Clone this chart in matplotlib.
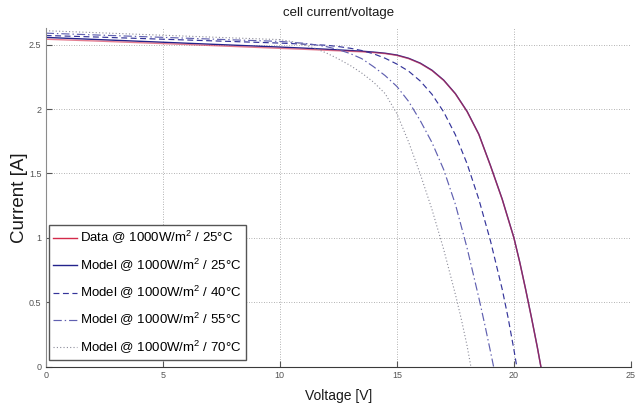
import matplotlib
matplotlib.use("Agg")
import matplotlib.pyplot as plt

plt.rcParams['font.family'] = ['Liberation Sans', 'DejaVu Sans']
plt.rcParams['mathtext.fontset'] = 'custom'
plt.rcParams['mathtext.rm'] = 'Liberation Sans'
plt.rcParams['mathtext.it'] = 'Liberation Sans'

# measured I-V curve at 1000 W/m2, 25 C
v_data = [0, 2, 4, 6, 8, 10, 11, 12, 13, 13.5, 14, 14.5, 15, 15.5, 16, 16.5, 17, 17.5,
          18, 18.5, 19, 19.5, 20, 20.25, 20.5, 20.75, 21, 21.15]
i_data = [2.543, 2.530, 2.516, 2.502, 2.487, 2.472, 2.465, 2.457, 2.449, 2.445, 2.439, 2.431,
          2.417, 2.392, 2.354, 2.299, 2.223, 2.118, 1.980, 1.803, 1.558, 1.298, 0.998, 0.808,
          0.598, 0.378, 0.148, 0.0]

# model curves, one per cell temperature
v_m25 = [0, 2, 4, 6, 8, 10, 11, 12, 13, 13.5, 14, 14.5, 15, 15.5, 16, 16.5, 17, 17.5,
         18, 18.5, 19, 19.5, 20, 20.25, 20.5, 20.75, 21, 21.15]
i_m25 = [2.557, 2.542, 2.527, 2.512, 2.497, 2.482, 2.474, 2.465, 2.455, 2.450, 2.443, 2.434,
         2.420, 2.395, 2.357, 2.302, 2.225, 2.120, 1.982, 1.805, 1.560, 1.300, 1.000, 0.810,
         0.600, 0.380, 0.150, 0.0]

v_m40 = [0, 2, 4, 6, 8, 10, 11, 12, 12.5, 13, 13.5, 14, 14.5, 15, 15.5, 16, 16.5, 17,
         17.5, 18, 18.5, 19, 19.5, 19.75, 20, 20.12]
i_m40 = [2.572, 2.561, 2.549, 2.537, 2.525, 2.513, 2.505, 2.496, 2.486, 2.473, 2.455, 2.430,
         2.395, 2.350, 2.295, 2.218, 2.115, 1.978, 1.800, 1.575, 1.300, 0.975, 0.600, 0.380,
         0.130, 0.0]

v_m55 = [0, 2, 4, 6, 8, 10, 11, 11.5, 12, 12.5, 13, 13.5, 14, 14.5, 15, 15.5, 16, 16.5,
         17, 17.5, 18, 18.5, 18.75, 19, 19.13]
i_m55 = [2.590, 2.577, 2.564, 2.551, 2.538, 2.526, 2.512, 2.500, 2.485, 2.462, 2.432, 2.392,
         2.330, 2.260, 2.176, 2.060, 1.910, 1.740, 1.530, 1.260, 0.920, 0.535, 0.330, 0.115,
         0.0]

v_m70 = [0, 2, 4, 6, 8, 10, 10.5, 11, 11.5, 12, 12.5, 13, 13.5, 14, 14.5, 15, 15.5, 16,
         16.5, 17, 17.5, 17.75, 18, 18.16]
i_m70 = [2.609, 2.595, 2.581, 2.567, 2.553, 2.540, 2.525, 2.503, 2.473, 2.435, 2.390, 2.340,
         2.280, 2.210, 2.120, 1.965, 1.745, 1.495, 1.220, 0.910, 0.560, 0.370, 0.160, 0.0]

x_ticks = [0, 5, 10, 15, 20, 25]
y_ticks = [0, 0.5, 1, 1.5, 2, 2.5]
y_tick_labels = ['0', '0.5', '1', '1.5', '2', '2.5']

fig = plt.figure(figsize=(6.43, 4.09), dpi=100)
ax = fig.add_axes([0.0711, 0.1039, 0.9102, 0.8276])

h_m25, = ax.plot(v_m25, i_m25, color='#23238c', lw=1.0, label='Model @ 1000W/m$^2$ / 25°C')
h_data, = ax.plot(v_data, i_data, color='#d42a4a', lw=1.0, alpha=0.6,
                  label='Data @ 1000W/m$^2$ / 25°C')
h_m40, = ax.plot(v_m40, i_m40, color='#34349a', lw=0.85, linestyle=(0, (5, 3)),
                 label='Model @ 1000W/m$^2$ / 40°C')
h_m55, = ax.plot(v_m55, i_m55, color='#6060b0', lw=0.85, linestyle=(0, (7, 2.5, 1.2, 2.5)),
                 label='Model @ 1000W/m$^2$ / 55°C')
h_m70, = ax.plot(v_m70, i_m70, color='#8a8a98', lw=0.8, linestyle=(0, (1, 2)),
                 label='Model @ 1000W/m$^2$ / 70°C')

ax.set_xlim(0, 25)
ax.set_ylim(0, 2.63)
ax.set_xticks(x_ticks)
ax.set_yticks(y_ticks)
ax.set_xticklabels([str(t) for t in x_ticks])
ax.set_yticklabels(y_tick_labels)

ax.grid(True, color='#9a9a9a', linestyle=(0, (1, 2)), lw=0.6)
ax.spines['top'].set_visible(False)
ax.spines['right'].set_visible(False)
ax.spines['left'].set_color('#8c8c8c')
ax.spines['bottom'].set_color('#3a3a3a')
ax.tick_params(direction='in', length=4, width=0.8, labelsize=6.5, colors='#555555', pad=3)

ax.set_title('cell current/voltage', fontsize=9.5, pad=9, color='#1a1a1a')
ax.set_xlabel('Voltage [V]', fontsize=10, labelpad=7, color='#1a1a1a')
ax.set_ylabel('Current [A]', fontsize=13.5, labelpad=1, color='#1a1a1a')

leg = ax.legend([h_data, h_m25, h_m40, h_m55, h_m70],
                [h.get_label() for h in (h_data, h_m25, h_m40, h_m55, h_m70)],
                loc='lower left', bbox_to_anchor=(0.005, 0.018), fontsize=9.5,
                handlelength=1.8, handletextpad=0.25, borderpad=0.35, labelspacing=0.78,
                borderaxespad=0, fancybox=False, framealpha=1)
leg.get_frame().set_edgecolor('#555555')
leg.get_frame().set_linewidth(1.0)
for line in leg.get_lines():
    line.set_alpha(1.0)

fig.savefig('out.png', dpi=100)
